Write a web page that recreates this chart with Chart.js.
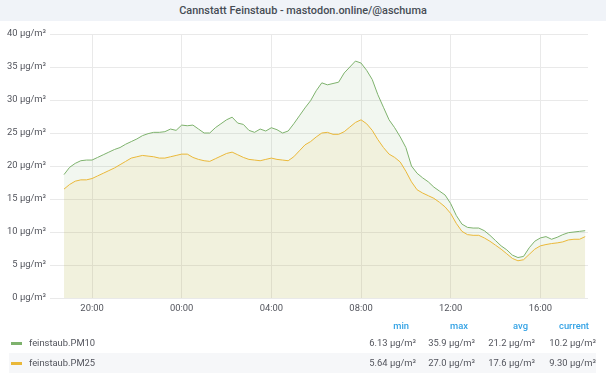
<!DOCTYPE html>
<html>
<head>
<meta charset="utf-8">
<script src="https://cdn.jsdelivr.net/npm/chart.js@4.4.0/dist/chart.umd.min.js"></script>
<style>
  body { margin: 0; width: 606px; height: 379px; background: #fff; overflow: hidden; position: relative;
         font-family: Roboto, "Noto Sans", sans-serif; color: #52545c; }
  #title { position: absolute; left: 0; top: 0; width: 606px; height: 21px; background: #f0f3f8;
           color: #464c54; font-size: 10.9px; font-weight: 500; text-align: center; line-height: 22px; }
  #wrap { position: absolute; left: 0; top: 21px; width: 606px; height: 297px; }
  .row { position: absolute; left: 9px; width: 587px; height: 20px; font-size: 9.4px; line-height: 20px; }
  .row.alt { background: #f6f7f9; }
  .dash { position: absolute; left: 2px; top: 9px; width: 11px; height: 3px; }
  .name { position: absolute; left: 20px; }
  .val { position: absolute; text-align: right; width: 70px; }
  .head { position: absolute; top: 316px; height: 20px; line-height: 20px; font-size: 9.4px; color: #33a2e5;
          font-weight: 500; text-align: right; width: 60px; }
</style>
</head>
<body>
<div id="title">Cannstatt Feinstaub - mastodon.online/@aschuma</div>
<div id="wrap"><canvas id="chart" width="606" height="297"></canvas></div>
<div id="legend"></div>
<script>
// time axis: hours after 18:00, one reading every 15 minutes from 18:45
const firstHour = 0.75;
const stepHour = 0.25;
const tickHours = [2, 6, 10, 14, 18, 22];
const yTicks = [0, 5, 10, 15, 20, 25, 30, 35, 40];

const pm10 = [
  18.7, 19.8, 20.4, 20.8, 20.9, 20.9, 21.3, 21.7, 22.1, 22.5,
  22.8, 23.3, 23.7, 24.1, 24.6, 24.9, 25.1, 25.1, 25.2, 25.6,
  25.4, 26.2, 26.1, 26.2, 25.6, 25.0, 25.0, 25.8, 26.4, 27.0,
  27.4, 26.5, 26.3, 25.4, 25.1, 25.6, 25.3, 25.8, 25.5, 25.0,
  25.3, 26.4, 27.6, 28.8, 29.9, 31.4, 32.6, 32.3, 32.5, 32.7,
  34.1, 35.0, 35.9, 35.6, 34.5, 33.1, 30.8, 28.9, 27.0, 25.8,
  24.4, 22.8, 20.0, 18.9, 18.2, 17.6, 16.8, 16.2, 15.6, 14.3,
  12.5, 11.2, 10.7, 10.6, 10.6, 10.2, 9.5, 8.7, 7.9, 7.3,
  6.5, 6.13, 6.3, 7.6, 8.6, 9.1, 9.3, 8.9, 9.2, 9.6,
  9.9, 10.0, 10.1, 10.2
];
const pm25 = [
  16.5, 17.2, 17.7, 17.9, 17.9, 18.1, 18.5, 18.9, 19.3, 19.7,
  20.2, 20.7, 21.2, 21.4, 21.6, 21.5, 21.4, 21.2, 21.2, 21.4,
  21.6, 21.8, 21.8, 21.3, 21.0, 20.8, 20.7, 21.1, 21.5, 21.9,
  22.1, 21.7, 21.3, 21.0, 20.9, 20.8, 21.0, 21.2, 21.0, 20.9,
  20.8, 21.4, 22.3, 23.2, 23.7, 24.4, 25.0, 25.1, 24.8, 24.8,
  25.2, 25.9, 26.6, 27.0, 26.4, 25.4, 24.0, 22.8, 21.8, 21.3,
  20.6, 19.2, 17.6, 16.4, 15.9, 15.5, 15.1, 14.5, 13.8, 12.8,
  11.3, 10.1, 9.6, 9.5, 9.5, 9.1, 8.6, 8.0, 7.4, 6.7,
  6.0, 5.64, 5.8, 6.6, 7.4, 7.9, 8.1, 8.25, 8.35, 8.5,
  8.8, 8.9, 8.9, 9.3
];

const seriesNames = ['feinstaub.PM10', 'feinstaub.PM25'];
const seriesColors = ['#7eb26d', '#eab839'];
const statNames = ['min', 'max', 'avg', 'current'];
const statMin = ['6.13', '5.64'];
const statMax = ['35.9', '27.0'];
const statAvg = ['21.2', '17.6'];
const statCurrent = ['10.2', '9.30'];

const unit = ' \u00b5g/m\u00b3';

function toPoints(vals) {
  return vals.map((v, i) => ({ x: firstHour + i * stepHour, y: v }));
}
function hourLabel(h) {
  const hh = (18 + Math.floor(h)) % 24;
  return String(hh).padStart(2, '0') + ':00';
}
function fillColour(hex) {
  const n = parseInt(hex.slice(1), 16);
  return `rgba(${n >> 16}, ${(n >> 8) & 255}, ${n & 255}, 0.1)`;
}

const tickFont = { family: 'Roboto', size: 9.4 };

new Chart(document.getElementById('chart'), {
  type: 'line',
  data: {
    datasets: [pm10, pm25].map((vals, i) => ({
      label: seriesNames[i],
      data: toPoints(vals),
      borderColor: seriesColors[i],
      backgroundColor: fillColour(seriesColors[i]),
      borderWidth: 1,
      pointRadius: 0,
      tension: 0,
      fill: 'origin',
      order: 1 - i
    }))
  },
  options: {
    responsive: false,
    devicePixelRatio: 1,
    animation: false,
    layout: { padding: { top: 13, right: 18, bottom: 0, left: 0 } },
    plugins: { legend: { display: false }, tooltip: { enabled: false } },
    scales: {
      x: {
        type: 'linear',
        min: 0.125,
        max: 24.125,
        afterBuildTicks: (s) => { s.ticks = tickHours.map(v => ({ value: v })); },
        afterFit: (s) => { s.height = 20; },
        grid: { color: '#e9e9e9', drawTicks: false },
        border: { display: false },
        ticks: { color: '#52545c', font: tickFont, padding: 5, maxRotation: 0, callback: (v) => hourLabel(v) }
      },
      y: {
        min: 0,
        max: 40,
        afterBuildTicks: (s) => { s.ticks = yTicks.map(v => ({ value: v })); },
        afterFit: (s) => { s.width = 50; },
        grid: { color: '#e9e9e9', drawTicks: false },
        border: { display: false },
        ticks: { color: '#52545c', font: tickFont, padding: 4, callback: (v) => v + unit }
      }
    }
  }
});

// legend table below the plot
const legend = document.getElementById('legend');
const colRight = [416, 475, 535, 596];
statNames.forEach((name, c) => {
  const h = document.createElement('div');
  h.className = 'head';
  h.style.left = (colRight[c] - 7 - 60) + 'px';
  h.textContent = name;
  legend.appendChild(h);
});
seriesNames.forEach((name, r) => {
  const row = document.createElement('div');
  row.className = 'row' + (r === 1 ? ' alt' : '');
  row.style.top = (333 + r * 20) + 'px';
  const dash = document.createElement('div');
  dash.className = 'dash';
  dash.style.background = seriesColors[r];
  row.appendChild(dash);
  const label = document.createElement('div');
  label.className = 'name';
  label.textContent = name;
  row.appendChild(label);
  [statMin, statMax, statAvg, statCurrent].forEach((stat, c) => {
    const v = document.createElement('div');
    v.className = 'val';
    v.style.left = (colRight[c] - 9 - 70) + 'px';
    v.textContent = stat[r] + unit;
    row.appendChild(v);
  });
  legend.appendChild(row);
});
</script>
</body>
</html>
